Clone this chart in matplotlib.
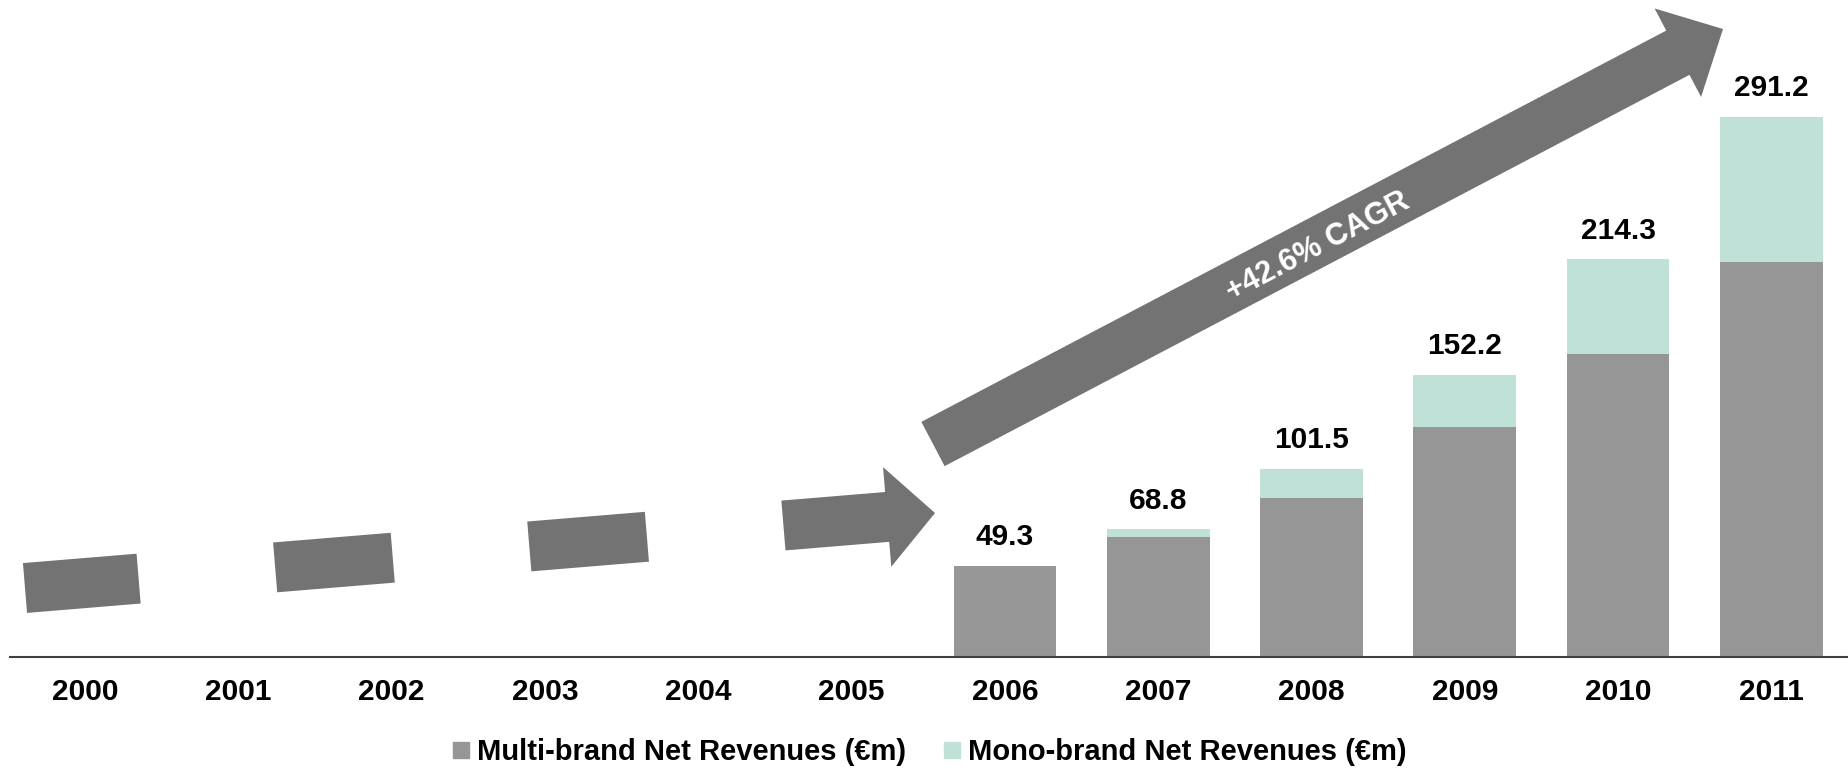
import numpy as np
import matplotlib
matplotlib.use("Agg")
import matplotlib.pyplot as plt
from matplotlib.patches import Polygon
from matplotlib.lines import Line2D

plt.rcParams.update({"font.family": ["Liberation Sans", "DejaVu Sans"], "font.weight": "bold"})

YEARS = [str(y) for y in range(2000, 2012)]
BAR_YEARS = YEARS[6:]                        # revenue bars only from 2006
MULTI = [48.9, 64.7, 85.7, 124.0, 163.3, 212.9]
MONO = [0.4, 4.1, 15.8, 28.2, 51.0, 78.3]
TOTALS = [49.3, 68.8, 101.5, 152.2, 214.3, 291.2]
SERIES = ["Multi-brand Net Revenues (€m)", "Mono-brand Net Revenues (€m)"]
CAGR = "+42.6% CAGR"

GREY, TEAL, ARROW = "#969696", "#bfe1d8", "#737373"
W, H = 1848, 774

fig = plt.figure(figsize=(W / 100, H / 100), dpi=100)
ax = fig.add_axes([10 / W, 117 / H, 1 - 10 / W, 657 / H])

x = np.array([YEARS.index(y) for y in BAR_YEARS])
ax.bar(x, MULTI, 0.67, color=GREY, zorder=2)
ax.bar(x, MONO, 0.67, bottom=MULTI, color=TEAL, zorder=2)
for xi, t in zip(x, TOTALS):
    ax.annotate(f"{t:.1f}", (xi, t), xytext=(0, 15), textcoords="offset points",
                ha="center", va="baseline", fontsize=21.5, fontweight="bold")

ax.set_xlim(-0.49, 11.5)
ax.set_ylim(0, 354.2)
ax.set_xticks(range(len(YEARS)))
ax.set_xticklabels(YEARS, fontsize=21.5, fontweight="bold")
ax.tick_params(axis="x", length=0, pad=15)
ax.set_yticks([])
for s in ("left", "top", "right"):
    ax.spines[s].set_visible(False)
ax.spines["bottom"].set_color("#404040")
ax.spines["bottom"].set_linewidth(1.5)


# ---------- decorative arrows, built in figure pixels ----------
def arrow_poly(p0, p1, w, head_w=0, head_len=0):
    p0, p1 = np.asarray(p0, float), np.asarray(p1, float)
    L = np.hypot(*(p1 - p0)); u = (p1 - p0) / L; n = np.array([-u[1], u[0]])
    if head_len:
        b = p0 + u * (L - head_len)
        pts = [p0 + n * w / 2, b + n * w / 2, b + n * head_w / 2, p1,
               b - n * head_w / 2, b - n * w / 2, p0 - n * w / 2]
    else:
        pts = [p0 + n * w / 2, p1 + n * w / 2, p1 - n * w / 2, p0 - n * w / 2]
    pts = np.array(pts)
    return np.column_stack([pts[:, 0] / W, 1 - pts[:, 1] / H])

def add_poly(verts):
    fig.add_artist(Polygon(verts, closed=True, transform=fig.transFigure,
                           facecolor=ARROW, edgecolor="none", zorder=3))

# dashed arrow 2000 -> 2005
S, T = np.array([25, 588.0]), np.array([935, 513.0])
u = (T - S) / np.hypot(*(T - S))
for a, b in [(0, 114), (251, 369), (506, 624)]:
    add_poly(arrow_poly(S + u * a, S + u * b, 50))
add_poly(arrow_poly(S + u * 761, T, 50, head_w=100, head_len=48))

# big CAGR arrow 2006 -> 2011
tail, tip = (933, 444), (1723, 29)
add_poly(arrow_poly(tail, tip, 50, head_w=100, head_len=51))
ang = np.degrees(np.arctan2(tail[1] - tip[1], tip[0] - tail[0]))
fig.text(1318 / W, 1 - 247 / H, CAGR, rotation=ang, rotation_mode="anchor",
         ha="center", va="center", color="white", fontsize=22, fontweight="bold", zorder=4)

handles = [Line2D([], [], marker="s", ls="", color=c, markersize=11) for c in (GREY, TEAL)]
fig.legend(handles, SERIES, loc="center", bbox_to_anchor=(0.503, 0.028), ncol=2,
           frameon=False, fontsize=21, handlelength=0.6, handletextpad=0.25,
           columnspacing=1.25, borderpad=0, borderaxespad=0)

fig.savefig("out.png", dpi=100)
